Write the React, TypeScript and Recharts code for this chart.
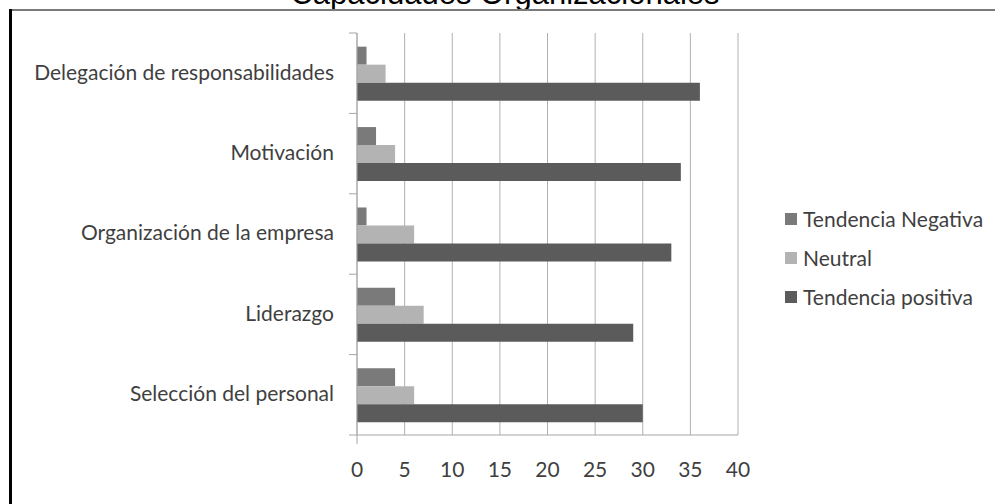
import React from 'react';
import { BarChart, Bar, XAxis, YAxis, CartesianGrid } from 'recharts';

const categories = [
  'Delegación de responsabilidades',
  'Motivación',
  'Organización de la empresa',
  'Liderazgo',
  'Selección del personal',
];
const negativa = [1, 2, 1, 4, 4];
const neutral = [3, 4, 6, 7, 6];
const positiva = [36, 34, 33, 29, 30];
const xTicks = [0, 5, 10, 15, 20, 25, 30, 35, 40];
const seriesNames = ['Tendencia Negativa', 'Neutral', 'Tendencia positiva'];
const seriesColors = ['#7a7a7a', '#b3b3b3', '#5b5b5b'];

const data = categories.map((name, i) => ({
  name,
  neg: negativa[i],
  neu: neutral[i],
  pos: positiva[i],
}));
const seriesKeys = ['neg', 'neu', 'pos'];

const W = 995;
const H = 504;
const PLOT_LEFT = 357;
const PLOT_RIGHT = 738;
const PLOT_TOP = 33;
const PLOT_BOTTOM = 435;
const X_AXIS_H = 40;
const HALF_BAND = (PLOT_BOTTOM - PLOT_TOP) / categories.length / 2;
const FONT = 'Lato, "Open Sans", sans-serif';
const FS = 21;
const TXT = '#3f3f3f';
const AXIS = '#a6a6a6';

const YTick = (props: any) => {
  const { x, y, payload, index } = props;
  return (
    <g>
      <text x={x - 23} y={y} dy="0.3em" textAnchor="end" fontFamily={FONT} fontSize={FS} fill={TXT}>
        {payload.value}
      </text>
      <line x1={x - 8} x2={x} y1={y - HALF_BAND} y2={y - HALF_BAND} stroke={AXIS} strokeWidth={1} />
      {index === categories.length - 1 ? (
        <line x1={x - 8} x2={x} y1={y + HALF_BAND} y2={y + HALF_BAND} stroke={AXIS} strokeWidth={1} />
      ) : null}
    </g>
  );
};

const XTick = (props: any) => {
  const { x, y, payload } = props;
  return (
    <g>
      {payload.value === 0 ? <line x1={x} x2={x} y1={y} y2={y + 9} stroke={AXIS} strokeWidth={1} /> : null}
      <text x={x} y={y + 35} dy="0.35em" textAnchor="middle" fontFamily={FONT} fontSize={FS} fill={TXT}>
        {payload.value}
      </text>
    </g>
  );
};

export default function App() {
  return (
    <div style={{ position: 'absolute', left: 0, top: 0, width: W, height: H, background: '#fff', overflow: 'hidden' }}>
      <svg width={W} height={H} style={{ position: 'absolute', left: 0, top: 0 }}>
        <text
          x={505}
          y={4}
          textAnchor="middle"
          fontFamily='"Liberation Sans", Arial, sans-serif'
          fontSize={31}
          fill="#000"
        >
          Capacidades Organizacionales
        </text>
        <line x1={9} x2={W} y1={10} y2={10} stroke="#7a7a7a" strokeWidth={2} />
        <line x1={10.5} x2={10.5} y1={9} y2={H} stroke="#000" strokeWidth={3} />
      </svg>
      <div style={{ position: 'absolute', left: 0, top: 0 }}>
        <BarChart
          width={W}
          height={H}
          data={data}
          layout="vertical"
          margin={{ left: 17, right: W - PLOT_RIGHT, top: PLOT_TOP, bottom: H - PLOT_BOTTOM - X_AXIS_H }}
          barCategoryGap="17%"
          barGap={0}
        >
          <CartesianGrid horizontal={false} vertical={true} stroke="#b0b0b0" />
          <XAxis
            type="number"
            domain={[0, 40]}
            ticks={xTicks}
            interval={0}
            axisLine={{ stroke: AXIS }}
            tickLine={false}
            tickSize={0}
            tickMargin={0}
            tick={<XTick />}
            height={X_AXIS_H}
          />
          <YAxis
            type="category"
            dataKey="name"
            width={PLOT_LEFT - 17}
            axisLine={{ stroke: AXIS }}
            tickLine={false}
            tickSize={0}
            tickMargin={0}
            interval={0}
            tick={<YTick />}
          />
          {seriesKeys.map((k, i) => (
            <Bar key={k} dataKey={k} name={seriesNames[i]} fill={seriesColors[i]} isAnimationActive={false} />
          ))}
        </BarChart>
      </div>
      <div style={{ position: 'absolute', left: 785, top: 199, fontFamily: FONT, fontSize: FS, color: TXT }}>
        {seriesNames.map((n, i) => (
          <div key={n} style={{ height: 39, display: 'flex', alignItems: 'center' }}>
            <span style={{ display: 'inline-block', width: 12, height: 12, background: seriesColors[i], marginRight: 6 }} />
            <span>{n}</span>
          </div>
        ))}
      </div>
    </div>
  );
}
